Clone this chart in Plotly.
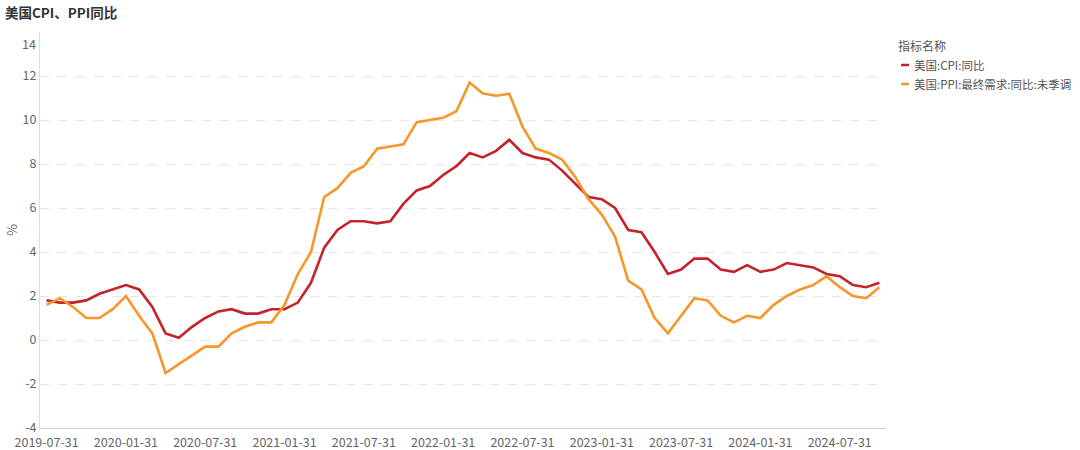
import pandas as pd
import plotly.graph_objects as go

# Categories: month-end dates 2019-07-31 .. 2024-10-31
dates = pd.date_range("2019-07-31", periods=64, freq="ME").strftime("%Y-%m-%d").tolist()

cpi_yoy = [
    1.8, 1.7, 1.7, 1.8, 2.1, 2.3,
    2.5, 2.3, 1.5, 0.3, 0.1, 0.6, 1.0, 1.3, 1.4, 1.2, 1.2, 1.4,
    1.4, 1.7, 2.6, 4.2, 5.0, 5.4, 5.4, 5.3, 5.4, 6.2, 6.8, 7.0,
    7.5, 7.9, 8.5, 8.3, 8.6, 9.1, 8.5, 8.3, 8.2, 7.7, 7.1, 6.5,
    6.4, 6.0, 5.0, 4.9, 4.0, 3.0, 3.2, 3.7, 3.7, 3.2, 3.1, 3.4,
    3.1, 3.2, 3.5, 3.4, 3.3, 3.0, 2.9, 2.5, 2.4, 2.6,
]
ppi_yoy = [
    1.6, 1.9, 1.5, 1.0, 1.0, 1.4,
    2.0, 1.1, 0.3, -1.5, -1.1, -0.7, -0.3, -0.3, 0.3, 0.6, 0.8, 0.8,
    1.6, 3.0, 4.0, 6.5, 6.9, 7.6, 7.9, 8.7, 8.8, 8.9, 9.9, 10.0,
    10.1, 10.4, 11.7, 11.2, 11.1, 11.2, 9.7, 8.7, 8.5, 8.2, 7.4, 6.4,
    5.7, 4.7, 2.7, 2.3, 1.0, 0.3, 1.1, 1.9, 1.8, 1.1, 0.8, 1.1,
    1.0, 1.6, 2.0, 2.3, 2.5, 2.9, 2.4, 2.0, 1.9, 2.4,
]
series_names = ["美国:CPI:同比", "美国:PPI:最终需求:同比:未季调"]
series_colors = ["#C4232B", "#F7962A"]
y_ticks = [-4, -2, 0, 2, 4, 6, 8, 10, 12, 14]

FONT = "Noto Sans CJK SC"
W, H = 1080, 450
ML, MR, MT, MB = 40, 194, 32, 22
PW, PH = W - ML - MR, H - MT - MB


def px(xpix):
    return (xpix - ML) / PW


def py(ypix):
    return (H - MB - ypix) / PH


fig = go.Figure()
for name, vals, col in zip(series_names, [cpi_yoy, ppi_yoy], series_colors):
    fig.add_trace(go.Scatter(
        x=dates, y=vals, mode="lines", name=name,
        line=dict(color=col, width=2.6),
        showlegend=False,
    ))

tick_idx = list(range(0, len(dates), 6))
# top label (14) is drawn just below its gridline, as in the reference
y_ticktext = [str(v) if v != y_ticks[-1] else "" for v in y_ticks]

fig.update_layout(
    width=W, height=H,
    paper_bgcolor="white", plot_bgcolor="white",
    margin=dict(l=ML, r=MR, t=MT, b=MB, autoexpand=False),
    font=dict(family=FONT, size=12, color="#666666"),
    xaxis=dict(
        type="category", range=[-0.5, len(dates) - 0.5], automargin=False,
        tickmode="array", tickvals=[dates[i] for i in tick_idx],
        ticktext=[dates[i] for i in tick_idx],
        showgrid=False, showline=True, linecolor="#cccccc", linewidth=1,
        ticks="outside", ticklen=3, tickcolor="rgba(0,0,0,0)",
        tickfont=dict(size=12.5, color="#666666"),
    ),
    yaxis=dict(
        range=[-4, 14], tickmode="array", tickvals=y_ticks, ticktext=y_ticktext,
        automargin=False,
        showgrid=True, gridcolor="#e6e6e6", griddash="dash", gridwidth=1,
        zeroline=False, showline=True, linecolor="#dddddd", linewidth=1,
        ticks="", tickfont=dict(size=12.5, color="#666666"),
        title=dict(text="%", standoff=2, font=dict(size=13, color="#666666")),
    ),
)

fig.add_annotation(xref="paper", yref="paper", x=px(38), y=py(43),
                   text=str(y_ticks[-1]), showarrow=False,
                   xanchor="right", yanchor="middle",
                   font=dict(family=FONT, size=12.5, color="#666666"))

# Chart title
fig.add_annotation(xref="paper", yref="paper", x=px(3), y=py(12),
                   text="<b>美国CPI、PPI同比</b>", showarrow=False,
                   xanchor="left", yanchor="middle",
                   font=dict(family=FONT, size=13.5, color="#333333"))

# Legend drawn as text + short line marks
fig.add_annotation(xref="paper", yref="paper", x=px(896), y=py(45),
                   text="指标名称", showarrow=False, xanchor="left", yanchor="middle",
                   font=dict(family=FONT, size=12, color="#555555"))
for k, (name, col) in enumerate(zip(series_names, series_colors)):
    ypix = 65 + k * 19
    fig.add_shape(type="line", xref="paper", yref="paper",
                  x0=px(901), x1=px(909), y0=py(ypix), y1=py(ypix),
                  line=dict(color=col, width=2.5))
    fig.add_annotation(xref="paper", yref="paper", x=px(912), y=py(ypix),
                       text=name, showarrow=False, xanchor="left", yanchor="middle",
                       font=dict(family=FONT, size=11.5, color="#555555"))

fig.write_html(
    "out.html",
    config={"displayModeBar": False},
    post_script="document.body.style.margin='0';document.body.style.overflow='hidden';",
)
